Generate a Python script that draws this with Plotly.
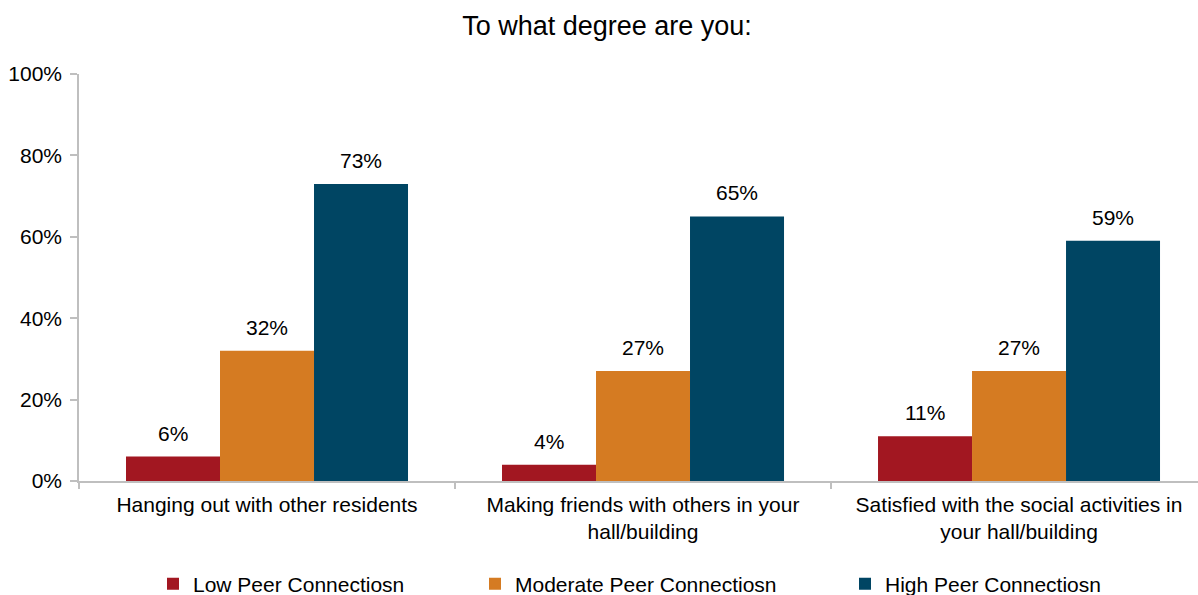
import plotly.graph_objects as go

categories = [
    "Hanging out with other residents",
    "Making friends with others in your<br>hall/building",
    "Satisfied with the social activities in<br>your hall/building",
]
series_names = ["Low Peer Connectiosn", "Moderate Peer Connectiosn", "High Peer Connectiosn"]
low_values = [6, 4, 11]
moderate_values = [32, 27, 27]
high_values = [73, 65, 59]
y_tickvals = [0, 20, 40, 60, 80, 100]
y_ticktext = ["0%", "20%", "40%", "60%", "80%", "100%"]

colors = ["#A21721", "#D57B22", "#004563"]
all_values = [low_values, moderate_values, high_values]
legend_ids = ["legend", "legend2", "legend3"]
legend_x_px = [153, 475, 845]

FONT = "Arial, Liberation Sans, sans-serif"
W, H = 1198, 595

fig = go.Figure()
for name, vals, col, lid in zip(series_names, all_values, colors, legend_ids):
    fig.add_trace(go.Bar(
        x=categories, y=vals, name=name, marker=dict(color=col, line=dict(width=0)),
        legend=lid, hoverinfo="skip",
    ))

# data labels
offsets = [-1, 0, 1]
bar_px = 94
for vals, off in zip(all_values, offsets):
    for c, v in zip(categories, vals):
        fig.add_annotation(
            x=c, y=v, text=f"{v}%", showarrow=False, xref="x", yref="y",
            xshift=off * bar_px, yanchor="bottom", yshift=10,
            font=dict(family=FONT, size=21, color="#000000"),
        )

legend_common = dict(
    orientation="h", yref="container", y=1 - 584 / H, yanchor="middle",
    xref="container", xanchor="left", bgcolor="rgba(0,0,0,0)",
    font=dict(family=FONT, size=21, color="#000000"), itemwidth=30,
)
fig.update_layout(
    width=W, height=H,
    margin=dict(l=79, r=0, t=74, b=114),
    paper_bgcolor="white", plot_bgcolor="white",
    barmode="group", bargap=0.25, bargroupgap=0,
    title=dict(text="To what degree are you:", x=607 / W, xanchor="center", xref="container",
               y=1 - 26 / H, yanchor="middle", yref="container",
               font=dict(family=FONT, size=27, color="#000000")),
    font=dict(family=FONT, size=21, color="#000000"),
    showlegend=True,
    legend=dict(x=legend_x_px[0] / W, **legend_common),
    legend2=dict(x=legend_x_px[1] / W, **legend_common),
    legend3=dict(x=legend_x_px[2] / W, **legend_common),
)
fig.update_xaxes(
    type="category", range=[-0.5, 2.476], showline=True, linecolor="#BFBFBF", linewidth=1.5,
    ticks="outside", tickson="boundaries", ticklen=6, tickcolor="#BFBFBF", tickwidth=1.5,
    showgrid=False, zeroline=False, ticklabelstandoff=4,
    tickfont=dict(family=FONT, size=21, color="#000000"), fixedrange=True,
)
fig.update_yaxes(
    range=[0, 100], tickvals=y_tickvals, ticktext=y_ticktext, showline=True,
    linecolor="#BFBFBF", linewidth=1.5, ticks="outside", ticklen=7, tickcolor="#BFBFBF",
    tickwidth=1.5, showgrid=False, zeroline=False, ticklabelstandoff=4,
    tickfont=dict(family=FONT, size=21, color="#000000"), fixedrange=True,
)

fig.write_html("out.html", config={"displayModeBar": False})
